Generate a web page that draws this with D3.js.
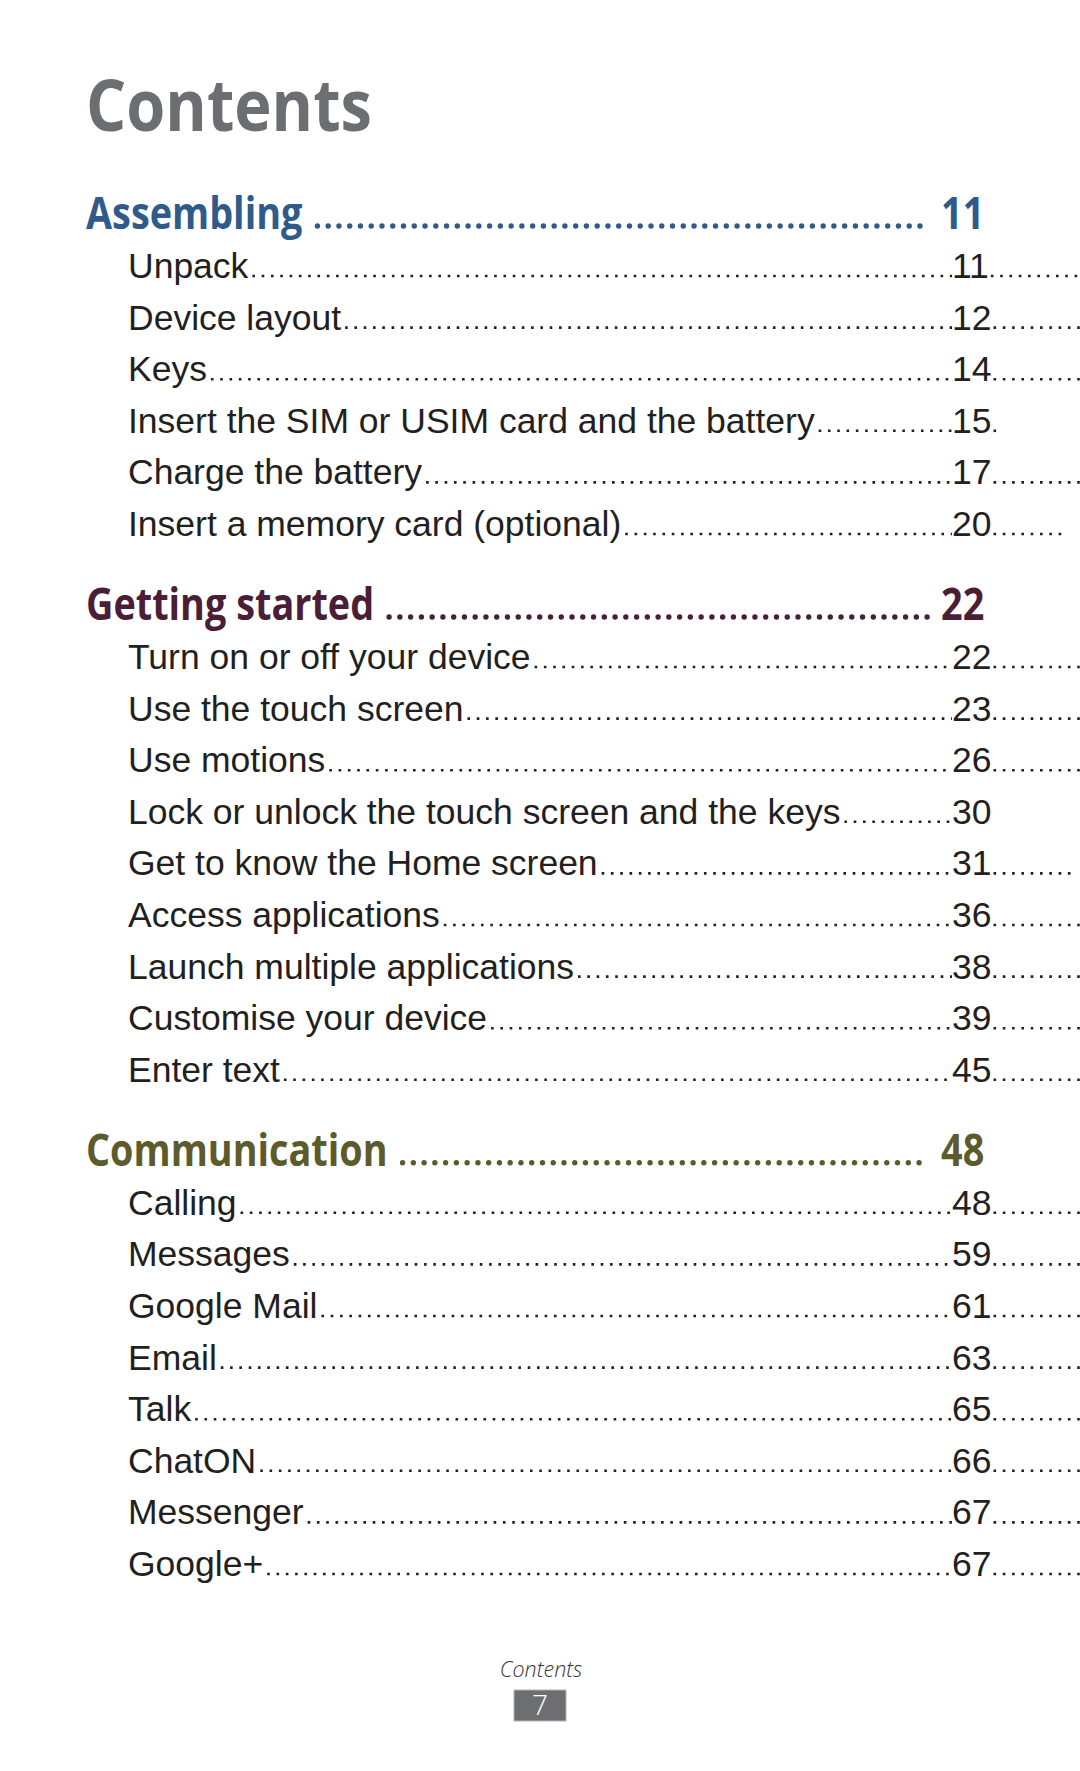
<!DOCTYPE html>
<html><head><meta charset="utf-8">
<script src="https://cdn.jsdelivr.net/npm/d3@7"></script>
<style>html,body{margin:0;padding:0;background:#fff;}svg{display:block;}</style>
</head><body>
<script>
// ---- data ----
const pageTitle = "Contents";
const sectionTitles = ["Assembling", "Getting started", "Communication"];
const sectionPages = [11, 22, 48];
const sectionColors = ["#2f5b8b", "#4b1e38", "#5d5a2c"];

const assemblingItems = ["Unpack", "Device layout", "Keys", "Insert the SIM or USIM card and the battery", "Charge the battery", "Insert a memory card (optional)"];
const assemblingPages = [11, 12, 14, 15, 17, 20];
const assemblingTrailDots = [12, 12, 12, 1, 12, 8];

const startedItems = ["Turn on or off your device", "Use the touch screen", "Use motions", "Lock or unlock the touch screen and the keys", "Get to know the Home screen", "Access applications", "Launch multiple applications", "Customise your device", "Enter text"];
const startedPages = [22, 23, 26, 30, 31, 36, 38, 39, 45];
const startedTrailDots = [12, 12, 10, 0, 9, 12, 10, 12, 12];

const commItems = ["Calling", "Messages", "Google Mail", "Email", "Talk", "ChatON", "Messenger", "Google+"];
const commPages = [48, 59, 61, 63, 65, 66, 67, 67];
const commTrailDots = [12, 12, 12, 12, 10, 12, 12, 12];

const footerLabel = "Contents";
const footerPage = 7;

// ---- build ----
const W = 1080, H = 1771;
const svg = d3.select("body").append("svg").attr("width", W).attr("height", H);

const sections = [
  {title: sectionTitles[0], page: sectionPages[0], color: sectionColors[0], items: assemblingItems, pages: assemblingPages, trail: assemblingTrailDots},
  {title: sectionTitles[1], page: sectionPages[1], color: sectionColors[1], items: startedItems, pages: startedPages, trail: startedTrailDots},
  {title: sectionTitles[2], page: sectionPages[2], color: sectionColors[2], items: commItems, pages: commPages, trail: commTrailDots}
];

// vertical layout: a linear scale of "line slots"
const step = d3.scaleLinear().domain([0, 1]).range([0, 51.6]);
const headGap = 49, sectionGap = 84;
let yCursor = 229;
sections.forEach(s => {
  s.y = yCursor;
  s.itemY = s.items.map((_, i) => yCursor + headGap + step(i));
  yCursor = s.itemY[s.itemY.length - 1] + sectionGap;
});

const headX = 86, itemX = 128, pageX = 952, headPageX = 941, headDotEnd = 929;
const headSize = 44, headScale = 0.86;

// title
svg.append("text").text(pageTitle)
  .attr("font-family", "'Open Sans', sans-serif").attr("font-weight", 700)
  .attr("font-size", 71).attr("fill", "#6d6e71")
  .attr("transform", `translate(${headX},131) scale(0.89,1)`);

sections.forEach(s => {
  const g = svg.append("g");
  const ht = g.append("text").text(s.title)
    .attr("font-family", "'Open Sans', sans-serif").attr("font-weight", 700)
    .attr("font-size", headSize).attr("fill", s.color)
    .attr("transform", `translate(${headX},${s.y}) scale(${headScale},1)`);
  const hw = ht.node().getComputedTextLength() * headScale;
  g.append("line")
    .attr("x1", headX + hw + 15).attr("x2", headDotEnd)
    .attr("y1", s.y - 3).attr("y2", s.y - 3)
    .attr("stroke", s.color).attr("stroke-width", 5.4)
    .attr("stroke-linecap", "round").attr("stroke-dasharray", "0.01 10.75");
  g.append("text").text(s.page)
    .attr("font-family", "'Open Sans', sans-serif").attr("font-weight", 700)
    .attr("font-size", headSize).attr("fill", s.color)
    .attr("transform", `translate(${headPageX},${s.y}) scale(${headScale},1)`);

  s.items.forEach((name, i) => {
    const y = s.itemY[i];
    const it = g.append("text").text(name)
      .attr("x", itemX).attr("y", y)
      .attr("font-family", "'Liberation Sans', Arial, sans-serif")
      .attr("font-size", 35.5).attr("fill", "#231f20");
    const w = it.node().getComputedTextLength();
    g.append("line")
      .attr("x1", itemX + w + 4).attr("x2", pageX)
      .attr("y1", y - 2).attr("y2", y - 2)
      .attr("stroke", "#231f20").attr("stroke-width", 2.6)
      .attr("stroke-dasharray", "2.6 6.7");
    const pt = g.append("text").text(s.pages[i])
      .attr("x", pageX).attr("y", y)
      .attr("font-family", "'Liberation Sans', Arial, sans-serif")
      .attr("font-size", 35.5).attr("fill", "#231f20");
    const pw = pt.node().getComputedTextLength();
    const n = s.trail[i];
    if (n > 0) {
      g.append("line")
        .attr("x1", pageX + pw + 2).attr("x2", pageX + pw + 2 + n * 9.3 - 6.7)
        .attr("y1", y - 2).attr("y2", y - 2)
        .attr("stroke", "#231f20").attr("stroke-width", 2.6)
        .attr("stroke-dasharray", "2.6 6.7");
    }
  });
});

// footer
svg.append("text").text(footerLabel)
  .attr("x", 541).attr("y", 1677).attr("text-anchor", "middle")
  .attr("font-family", "'Open Sans', sans-serif").attr("font-style", "italic")
  .attr("font-weight", 300).attr("font-size", 21.5).attr("fill", "#3a3536");
svg.append("rect").attr("x", 514).attr("y", 1690).attr("width", 52).attr("height", 31)
  .attr("fill", "#6d6e71").attr("stroke", "#b5b6b8").attr("stroke-width", 1);
svg.append("text").text(footerPage)
  .attr("x", 540).attr("y", 1715).attr("text-anchor", "middle")
  .attr("font-family", "'Open Sans', sans-serif").attr("font-weight", 300)
  .attr("font-size", 28).attr("fill", "#ffffff");
</script>
</body></html>
